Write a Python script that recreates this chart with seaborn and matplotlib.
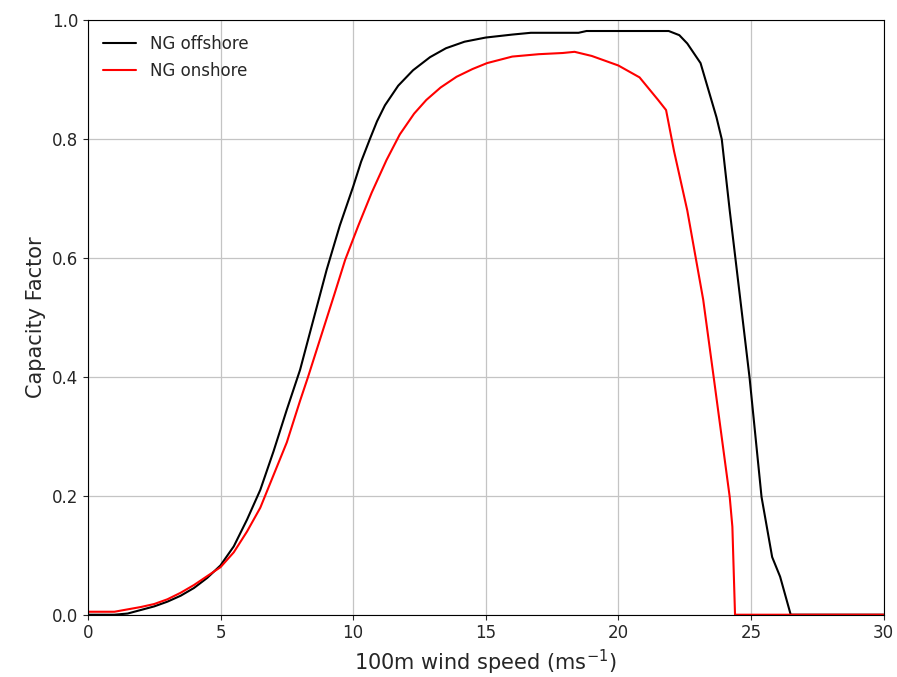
import matplotlib
matplotlib.use("Agg")
import matplotlib.pyplot as plt
import pandas as pd
import seaborn as sns

# wind speed (m/s) and capacity factor
ws_off = [0, 1, 1.5, 2, 2.5, 3, 3.5, 4, 4.5, 5, 5.5, 6, 6.5, 7, 7.5, 8, 8.5, 9, 9.5,
          10, 10.3, 10.63, 10.9, 11.2, 11.7, 12.26, 12.9, 13.5, 14.2, 15, 16, 16.7,
          18.5, 18.8, 21.9, 22.3, 22.6, 23.1, 23.7, 23.9, 24.2, 24.6, 24.95, 25.4,
          25.8, 26.1, 26.5, 27, 30]
cf_off = [0, 0, 0.002, 0.008, 0.014, 0.022, 0.032, 0.045, 0.062, 0.083, 0.115, 0.16,
          0.21, 0.275, 0.345, 0.412, 0.496, 0.58, 0.655, 0.72, 0.762, 0.80, 0.83,
          0.857, 0.89, 0.916, 0.938, 0.953, 0.964, 0.971, 0.976, 0.979, 0.979, 0.982,
          0.982, 0.975, 0.961, 0.928, 0.837, 0.80, 0.68, 0.53, 0.398, 0.198, 0.097,
          0.064, 0.0, 0.0, 0.0]

ws_on = [0, 1, 1.5, 2, 2.5, 3, 3.5, 4, 4.5, 5, 5.5, 6, 6.5, 7, 7.5, 8, 8.3, 8.8, 9.3,
         9.7, 10.2, 10.7, 11.26, 11.76, 12.3, 12.76, 13.3, 13.9, 14.5, 15.05, 16, 17,
         17.9, 18.35, 19, 20, 20.8, 21.5, 21.8, 22.1, 22.6, 23.2, 23.6, 24.2, 24.3,
         24.4, 25, 30]
cf_on = [0.005, 0.005, 0.009, 0.013, 0.018, 0.026, 0.037, 0.05, 0.065, 0.08, 0.105,
         0.14, 0.18, 0.235, 0.29, 0.36, 0.40, 0.47, 0.54, 0.597, 0.655, 0.71, 0.765,
         0.808, 0.843, 0.866, 0.887, 0.905, 0.918, 0.928, 0.939, 0.943, 0.945, 0.947,
         0.94, 0.924, 0.904, 0.866, 0.849, 0.78, 0.68, 0.53, 0.398, 0.198, 0.148,
         0.0, 0.0, 0.0]

sns.set_style("ticks")
plt.rcParams['font.family'] = ['DejaVu Sans']

df_off = pd.DataFrame({"ws": ws_off, "cf": cf_off})
df_on = pd.DataFrame({"ws": ws_on, "cf": cf_on})

fig, ax = plt.subplots(figsize=(8.97, 6.77), dpi=100)
fig.subplots_adjust(left=0.098, right=0.985, top=0.970, bottom=0.092)

sns.lineplot(data=df_off, x="ws", y="cf", color="black", lw=1.5, label="NG offshore", ax=ax)
sns.lineplot(data=df_on, x="ws", y="cf", color="red", lw=1.5, label="NG onshore", ax=ax)

ax.set_xlim(0, 30)
ax.set_ylim(0, 1.0)
ax.set_xticks([0, 5, 10, 15, 20, 25, 30])
ax.set_yticks([0.0, 0.2, 0.4, 0.6, 0.8, 1.0])
ax.grid(True, color="#c4c4c4", lw=0.9)
ax.tick_params(labelsize=12)
ax.set_xlabel("100m wind speed (ms$^{-1}$)", fontsize=15)
ax.set_ylabel("Capacity Factor", fontsize=15)
for s in ax.spines.values():
    s.set_color("black")
ax.legend(loc="upper left", frameon=False, fontsize=12)

fig.savefig("out.png", dpi=100)
